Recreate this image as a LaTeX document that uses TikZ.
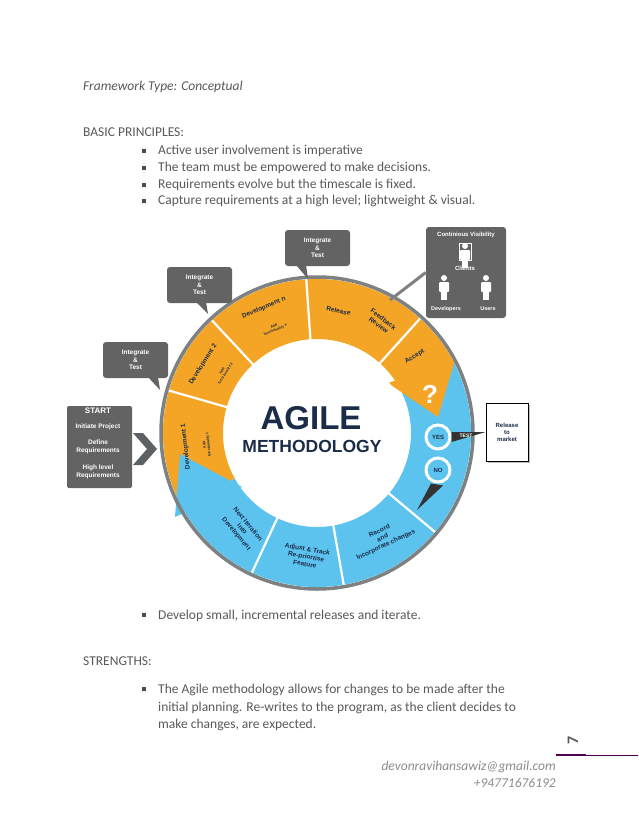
\documentclass[tikz,border=0pt]{standalone}
\usepackage{fontspec}
\usetikzlibrary{shadows,calc}
\setmainfont{Carlito}
\newfontfamily\dsans{Liberation Sans}
\begin{document}
\begin{tikzpicture}[x=1pt,y=-1pt,
  body/.style={anchor=base west,font=\fontsize{13.5}{15}\selectfont,text=black!65,inner sep=0},
  bul/.style={fill=black!70,minimum size=3.4pt,inner sep=0},
  callout/.style={fill=gray!25!black!70,rounded corners=3pt},
  ctext/.style={text=white,font=\dsans\bfseries\fontsize{6.5}{7.5}\selectfont,align=center},
  wl/.style={font=\dsans\bfseries\fontsize{6.5}{7.5}\selectfont,text=navy,align=center,inner sep=0},
  sl/.style={font=\dsans\bfseries\fontsize{3.6}{4}\selectfont,text=navy,align=center,inner sep=0},
  div/.style={draw=white,line width=2.2pt}]
\definecolor{navy}{HTML}{1B2C48}
\definecolor{org}{HTML}{F5A526}
\definecolor{sky}{HTML}{5CC3EF}
\definecolor{dgrey}{HTML}{5E6163}
\useasboundingbox[fill=white] (0,0) rectangle (638,826);
% text
\node[body,font=\itshape\fontsize{13.5}{15}\selectfont] (ft) at (83,91) {Framework Type: Conceptual};
\node[body] (bp) at (83,137) {BASIC PRINCIPLES:};
\foreach \y/\t [count=\i] in {155/Active user involvement is imperative,172/The team must be empowered to make decisions.,189/Requirements evolve but the timescale is fixed.,205/Capture requirements at a high level; lightweight \& visual.,619/{Develop small, incremental releases and iterate.},693/The Agile methodology allows for changes to be made after the}{
  \node[bul] (b\i) at (144,\y-4) {};
  \node[body] (t\i) at (158,\y) {\t};}
\node[body] (t7) at (158,711) {initial planning. Re-writes to the program, as the client decides to};
\node[body] (t8) at (158,728) {make changes, are expected.};
\node[body] (st) at (83,665) {STRENGTHS:};
\node[body,anchor=base east,font=\itshape\fontsize{13.5}{15}\selectfont,text=black!45] (em) at (556,770) {devonravihansawiz@gmail.com};
\node[body,anchor=base east,font=\itshape\fontsize{13.5}{15}\selectfont,text=black!45] (ph) at (556,787) {+94771676192};
\coordinate (l0) at (556,755); \coordinate (l1) at (586,755); \coordinate (l2) at (638,755);
\draw[line width=2.5pt,color=violet!60!black] (l0)--(l1);
\draw[line width=0.8pt,color=violet!60!black] (l1)--(l2);
\node[rotate=90,font=\bfseries\fontsize{16}{16}\selectfont,text=black!65] (pg) at (573,740) {7};
% wheel
\begin{scope}[shift={(317,433)},yscale=-1]
\coordinate (C) at (0,0);
\fill[org] (27:154) arc[start angle=27,end angle=209,radius=154] -- (209:94) arc[start angle=209,end angle=27,radius=94] -- cycle;
\fill[sky] (209:154) arc[start angle=209,end angle=387,radius=154] -- (27:94) arc[start angle=27,end angle=-151,radius=94] -- cycle;
\foreach \a in {164,133,94,48,-40,-80,-115} \draw[div] (\a:93) -- (\a:155);
% arrows
\fill[org] (138,73) -- (71,50) -- (121,16) -- cycle;
\fill[sky] (-142,-84) -- (-75,-54) -- (-137,-21) -- cycle;
\draw[dgrey!80,line width=3.5pt] (C) circle[radius=156];
\node[wl,rotate=96] (d1) at (186:132) {Development 1};
\node[sl,rotate=96] (f1) at (186:111) {Add\\functionality 1};
\node[wl,rotate=58] (d2) at (149:133) {Development 2};
\node[sl,rotate=58] (f2) at (147:111) {Add\\functionality 2};
\node[wl,rotate=23] (dn) at (113:136) {Development n};
\node[sl,rotate=23] (fn) at (112:113) {Add\\functionality n};
\node[wl,rotate=-12] (rel) at (80:124) {Release};
\node[wl,rotate=-38] (fr) at (60:128) {Feedback\\Review};
\node[wl,rotate=32] (acc) at (38:124) {Accept};
\node[wl,rotate=-50] (ni) at (232:122) {Next Iteration\\into\\Development};
\node[wl,rotate=-10] (adj) at (265:124) {Adjust \& Track\\Re-priortise\\Feature};
\node[wl,rotate=25] (rec) at (302:124) {Record\\and\\Incorporate changes};
\end{scope}
\fill[white] (317,433) circle[radius=88];
\node[font=\dsans\bfseries\fontsize{33}{33}\selectfont,text=navy] (ag) at (311,418) {AGILE};
\node[font=\dsans\bfseries\fontsize{17.5}{18}\selectfont,text=navy] (me) at (312,446) {METHODOLOGY};
\node[font=\dsans\bfseries\fontsize{26}{26}\selectfont,text=white] (q) at (430,394) {?};
% yes/no
\node[circle,fill=sky,draw=white,line width=3pt,minimum size=24pt,inner sep=0,font=\dsans\bfseries\fontsize{6}{6}\selectfont,text=navy] (yes) at (438,437) {YES};
\node[circle,fill=sky,draw=white,line width=3pt,minimum size=24pt,inner sep=0,font=\dsans\bfseries\fontsize{6}{6}\selectfont,text=navy] (no) at (438,470) {NO};
\node[draw=black,line width=0.8pt,fill=white,minimum width=42pt,minimum height=58pt,align=center,font=\dsans\bfseries\fontsize{6}{7}\selectfont,text=navy,drop shadow={shadow xshift=2pt,shadow yshift=-2pt}] (rm) at (507,432) {Release\\to\\market};
\fill[black!80] ($(yes.east)+(0,-5)$) -- (rm.west) -- ($(yes.east)+(0,5)$) -- cycle;
\node[font=\dsans\bfseries\fontsize{5}{6}\selectfont,text=white,inner sep=0] (tst) at (466,436) {TEST};
\coordinate (nt) at (417,510);
\fill[black!80] ($(no.south)+(-7,0)$) -- (nt) -- ($(no.south)+(5,2)$) -- cycle;
% callouts
\foreach \n/\x/\y/\tx/\ty in {c1/103/342/160/390,c2/167/267/208/314,c3/285/230/308/279}{
  \coordinate (\n t) at (\tx,\ty);
  \fill[callout] (\x,\y) rectangle ++(65,36);
  \fill[callout,rounded corners=0] (\tx-12,\y+35) -- (\n t) -- (\tx-2,\y+35) -- cycle;
  \node[ctext] (\n) at (\x+32.5,\y+18) {Integrate\\\&\\Test};}
% continuous visibility
\node[callout,minimum width=80pt,minimum height=91pt] (cv) at (466,272.5) {};
\draw[dgrey!80,line width=3pt] (390,300) -- (cv.west);
\node[ctext,anchor=north,font=\dsans\bfseries\fontsize{6}{7}\selectfont] (cvt) at (466,229) {Continious Visibility};
\node[draw=white,line width=0.6pt,minimum width=12pt,minimum height=17pt,inner sep=0] (cli) at (465,252) {};
\foreach \n/\px/\py in {p1/465/246,p2/444/278,p3/486/278}{
  \fill[white] (\px,\py) circle[radius=3];
  \fill[white,rounded corners=1pt] (\px-5,\py+4) rectangle (\px+5,\py+14);
  \fill[white] (\px-3,\py+13) rectangle (\px+3,\py+22);}
\node[ctext,font=\dsans\bfseries\fontsize{6}{7}\selectfont] (clt) at (465,268) {Clients};
\node[ctext,font=\dsans\bfseries\fontsize{5.5}{7}\selectfont] (dv) at (446,309) {Developers};
\node[ctext,font=\dsans\bfseries\fontsize{5.5}{7}\selectfont] (us) at (488,309) {Users};
% start
\node[callout,rounded corners=2pt,minimum width=65pt,minimum height=82pt] (sb) at (99.5,447) {};
\node[ctext,text=white,font=\dsans\bfseries\fontsize{8}{8}\selectfont] (stt) at (98,411) {START};
\node[ctext] (s1) at (98,427) {Initiate Project};
\node[ctext] (s2) at (98,447) {Define\\Requirements};
\node[ctext] (s3) at (98,472) {High level\\Requirements};
\coordinate (ch) at (157,449);
\fill[dgrey] (133,433) -- (143,433) -- (ch) -- (143,465) -- (133,465) -- (147,449) -- cycle;
\end{tikzpicture}
\end{document}
